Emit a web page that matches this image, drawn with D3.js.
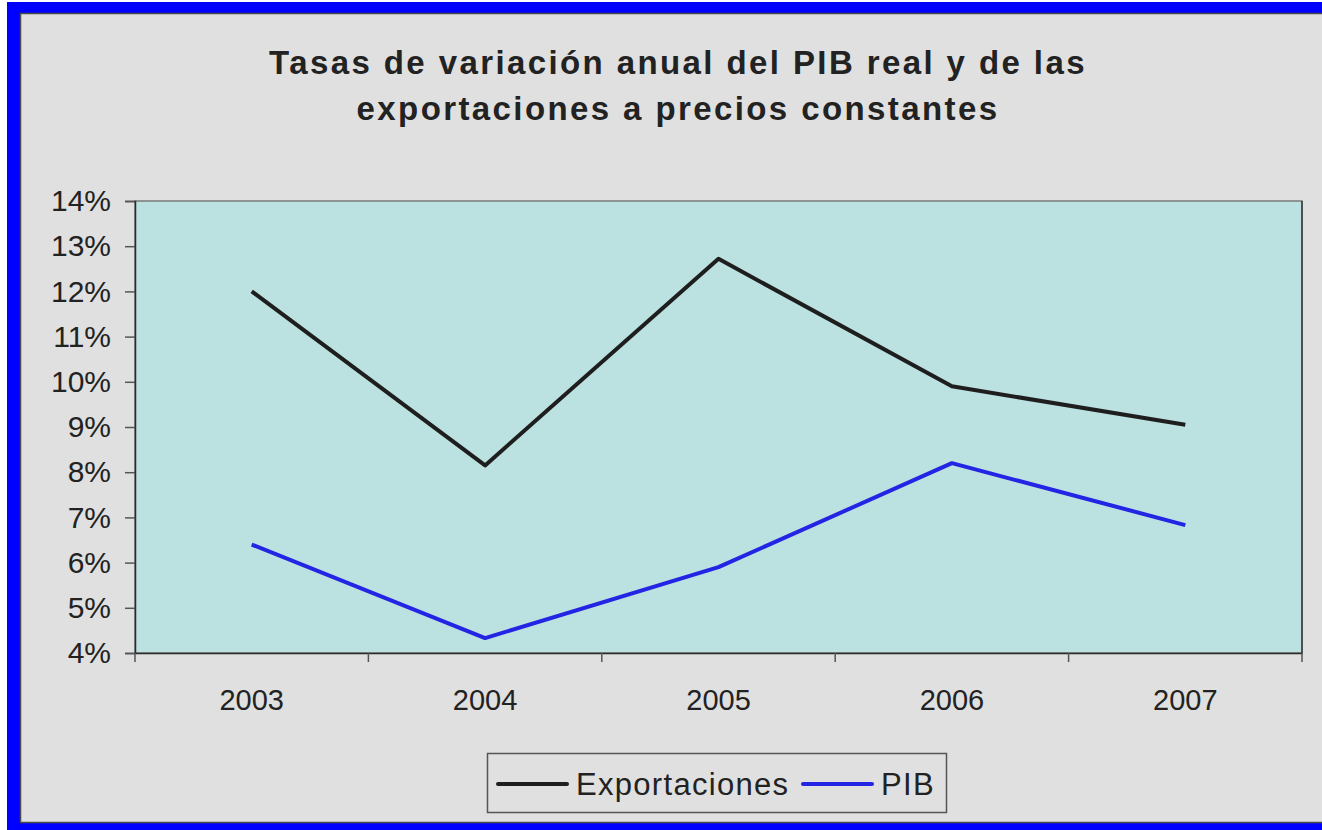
<!DOCTYPE html>
<html>
<head>
<meta charset="utf-8">
<script src="https://cdn.jsdelivr.net/npm/d3@7"></script>
<style>
  html, body { margin: 0; padding: 0; background: #fff; overflow: hidden; }
  svg { display: block; font-family: "Liberation Sans", Arial, sans-serif; }
</style>
</head>
<body>
<svg id="chart" width="1322" height="830"></svg>
<script>
// data
const years = ["2003", "2004", "2005", "2006", "2007"];
const exportaciones = [12.0, 8.15, 12.72, 9.9, 9.05];
const pib = [6.4, 4.33, 5.9, 8.2, 6.83];
const yTicks = [4, 5, 6, 7, 8, 9, 10, 11, 12, 13, 14];
const titleLines = ["Tasas de variación anual del PIB real y de las", "exportaciones a precios constantes"];
const seriesNames = ["Exportaciones", "PIB"];
const seriesColors = ["#1e1e1e", "#2424e4"];

const margin = { top: 201, right: 20, bottom: 177, left: 135 };
const W = 1322, H = 830;
const width = 1302 - margin.left;
const height = 653 - margin.top;

const svg = d3.select("#chart");

// gray chart area running off the right edge
svg.append("rect").attr("x", 0).attr("y", 0).attr("width", W).attr("height", H).attr("fill", "#e0e0e0");
// blue frame strips: left, top, bottom
const blue = "#0000ff";
svg.append("rect").attr("x", 0).attr("y", 0).attr("width", W).attr("height", 2).attr("fill", "#fff");
svg.append("rect").attr("x", 0).attr("y", 0).attr("width", 7).attr("height", H).attr("fill", "#fff");
svg.append("rect").attr("x", 7).attr("y", 2).attr("width", 13).attr("height", H - 2).attr("fill", blue);
svg.append("rect").attr("x", 7).attr("y", 2).attr("width", W - 7).attr("height", 11).attr("fill", blue);
svg.append("rect").attr("x", 7).attr("y", 823).attr("width", W - 7).attr("height", 7).attr("fill", blue);
svg.append("path")
  .attr("d", `M${W},13.5 H20.5 V822.5 H${W}`)
  .attr("fill", "none").attr("stroke", "#4a4a4a").attr("stroke-width", 1.5);

// title
const title = svg.append("text")
  .attr("text-anchor", "middle")
  .attr("font-weight", "bold")
  .attr("font-size", 33)
  .attr("letter-spacing", 2.4)
  .attr("fill", "#222");
titleLines.forEach((t, i) => {
  title.append("tspan").attr("x", 678).attr("y", 74 + i * 46).text(t);
});

const g = svg.append("g").attr("transform", `translate(${margin.left},${margin.top})`);

const x = d3.scaleBand().domain(years).range([0, width]).padding(0);
const y = d3.scaleLinear().domain([4, 14]).range([height, 0]);

// plot area
g.append("rect").attr("width", width).attr("height", height)
  .attr("fill", "#bbe1e0").attr("stroke", "#7a7a7a").attr("stroke-width", 1.5);
g.append("line").attr("x1", width).attr("x2", width).attr("y1", 0).attr("y2", height)
  .attr("stroke", "#3a3a3a").attr("stroke-width", 1.5);

// y axis
const yAxis = d3.axisLeft(y)
  .tickValues(yTicks)
  .tickSize(10)
  .tickPadding(14)
  .tickFormat(d => d + "%");
const ya = g.append("g").call(yAxis);
ya.select(".domain").attr("stroke", "#2a2a2a").attr("stroke-width", 1.5);
ya.selectAll(".tick line").attr("stroke", "#555").attr("stroke-width", 1.5);
ya.selectAll("text").attr("font-size", 30).attr("fill", "#222")
  .attr("font-family", "Liberation Sans, Arial, sans-serif");

// x axis labels
const xAxis = d3.axisBottom(x).tickSize(0).tickPadding(36);
const xa = g.append("g").attr("transform", `translate(0,${height})`).call(xAxis);
xa.select(".domain").attr("stroke", "#2a2a2a").attr("stroke-width", 1.5);
xa.selectAll("text").attr("font-size", 29).attr("fill", "#222")
  .attr("font-family", "Liberation Sans, Arial, sans-serif");

// category boundary ticks
const bounds = years.map(d => x(d)).concat([x.range()[1]]);
g.append("g").selectAll("line").data(bounds).enter().append("line")
  .attr("x1", d => d).attr("x2", d => d)
  .attr("y1", height).attr("y2", height + 9)
  .attr("stroke", "#555").attr("stroke-width", 1.5);

// series lines
const line = d3.line()
  .x((d, i) => x(years[i]) + x.bandwidth() / 2)
  .y(d => y(d));
[exportaciones, pib].forEach((s, k) => {
  g.append("path").datum(s)
    .attr("fill", "none")
    .attr("stroke", seriesColors[k])
    .attr("stroke-width", 4)
    .attr("stroke-linejoin", "round")
    .attr("d", line);
});

// legend
const lg = svg.append("g").attr("transform", "translate(487,753)");
lg.append("rect").attr("x", 0.5).attr("y", 0.5).attr("width", 459).attr("height", 59)
  .attr("fill", "#e0e0e0").attr("stroke", "#555").attr("stroke-width", 1.5);
const legendX = [11, 316];
seriesNames.forEach((name, k) => {
  const item = lg.append("g").attr("transform", `translate(${legendX[k]},31)`);
  item.append("line").attr("x1", 0).attr("x2", 69).attr("y1", 0).attr("y2", 0)
    .attr("stroke", seriesColors[k]).attr("stroke-width", 4).attr("stroke-linecap", "round");
  item.append("text").attr("x", 78).attr("y", 11)
    .attr("font-size", 31).attr("letter-spacing", 1.3).attr("fill", "#222").text(name);
});
</script>
</body>
</html>
